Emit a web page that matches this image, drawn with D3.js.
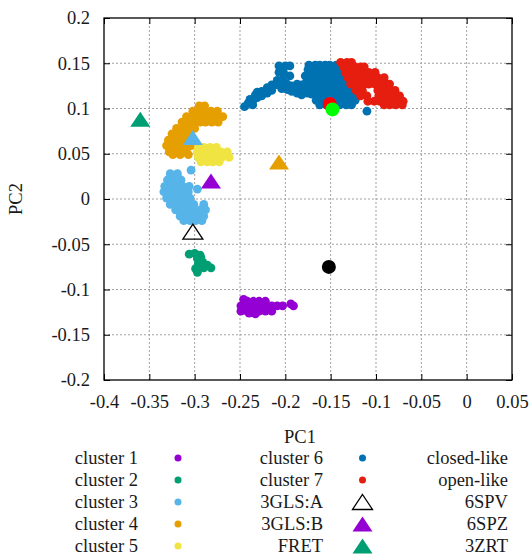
<!DOCTYPE html>
<html>
<head>
<meta charset="utf-8">
<script src="https://cdn.jsdelivr.net/npm/d3@7"></script>
<style>
body { margin: 0; background: #fff; }
svg text { font-family: 'Liberation Serif', 'Times New Roman', serif; }
</style>
</head>
<body>
<svg id="chart" width="529" height="555"></svg>
<script>
// tick values and labels
var xTicks = [-0.4, -0.35, -0.3, -0.25, -0.2, -0.15, -0.1, -0.05, 0, 0.05];
var xTickLabels = ["-0.4", "-0.35", "-0.3", "-0.25", "-0.2", "-0.15", "-0.1", "-0.05", "0", "0.05"];
var yTicks = [-0.2, -0.15, -0.1, -0.05, 0, 0.05, 0.1, 0.15, 0.2];
var yTickLabels = ["-0.2", "-0.15", "-0.1", "-0.05", "0", "0.05", "0.1", "0.15", "0.2"];

// cluster points [PC1, PC2]
var cluster1 = [
  [-0.246, -0.111], [-0.242, -0.113], [-0.235, -0.113], [-0.229, -0.113], [-0.222, -0.113],
  [-0.249, -0.118], [-0.242, -0.118], [-0.235, -0.118], [-0.229, -0.118], [-0.222, -0.118],
  [-0.215, -0.118], [-0.209, -0.118], [-0.203, -0.118],
  [-0.249, -0.124], [-0.242, -0.124], [-0.235, -0.124], [-0.229, -0.124], [-0.222, -0.124],
  [-0.215, -0.124], [-0.240, -0.126], [-0.233, -0.127],
  [-0.194, -0.116], [-0.191, -0.118]
];
var cluster2 = [
  [-0.306, -0.061], [-0.300, -0.060], [-0.294, -0.062], [-0.293, -0.065], [-0.297, -0.066],
  [-0.296, -0.072], [-0.299, -0.077], [-0.297, -0.081], [-0.291, -0.070], [-0.286, -0.073],
  [-0.282, -0.076], [-0.290, -0.076]
];
var cluster3 = [
  [-0.327, 0.028], [-0.319, 0.028],
  [-0.330, 0.021], [-0.323, 0.021], [-0.315, 0.021],
  [-0.333, 0.014], [-0.326, 0.014], [-0.319, 0.014], [-0.313, 0.014], [-0.306, 0.014],
  [-0.334, 0.008], [-0.327, 0.008], [-0.321, 0.008], [-0.314, 0.008], [-0.307, 0.008],
  [-0.331, 0.001], [-0.325, 0.001], [-0.318, 0.001], [-0.312, 0.001], [-0.305, 0.001],
  [-0.327, -0.006], [-0.321, -0.006], [-0.314, -0.006], [-0.307, -0.006], [-0.301, -0.006], [-0.290, -0.006],
  [-0.321, -0.012], [-0.314, -0.012], [-0.307, -0.012], [-0.301, -0.012], [-0.294, -0.012], [-0.288, -0.012],
  [-0.316, -0.019], [-0.310, -0.019], [-0.303, -0.019], [-0.296, -0.019], [-0.290, -0.019],
  [-0.312, -0.024], [-0.305, -0.024], [-0.299, -0.024], [-0.292, -0.024],
  [-0.304, 0.032], [-0.297, 0.011]
];
var cluster4 = [
  [-0.295, 0.103], [-0.289, 0.103],
  [-0.302, 0.097], [-0.295, 0.097], [-0.289, 0.097], [-0.282, 0.097], [-0.275, 0.097],
  [-0.309, 0.091], [-0.302, 0.091], [-0.295, 0.091], [-0.289, 0.091], [-0.282, 0.091], [-0.275, 0.091], [-0.269, 0.091],
  [-0.314, 0.085], [-0.307, 0.085], [-0.301, 0.085], [-0.294, 0.085], [-0.288, 0.085], [-0.281, 0.085], [-0.274, 0.085],
  [-0.320, 0.078], [-0.313, 0.078], [-0.306, 0.078], [-0.300, 0.078],
  [-0.325, 0.072], [-0.318, 0.072], [-0.312, 0.072], [-0.305, 0.072],
  [-0.329, 0.065], [-0.323, 0.065], [-0.316, 0.065], [-0.310, 0.065],
  [-0.331, 0.059], [-0.324, 0.059], [-0.317, 0.059], [-0.310, 0.059], [-0.304, 0.059],
  [-0.328, 0.052], [-0.322, 0.052], [-0.315, 0.052], [-0.309, 0.052],
  [-0.324, 0.049], [-0.316, 0.049], [-0.307, 0.049]
];
var cluster5 = [
  [-0.296, 0.057], [-0.290, 0.057], [-0.283, 0.057], [-0.276, 0.057],
  [-0.297, 0.052], [-0.291, 0.052], [-0.284, 0.052], [-0.278, 0.052], [-0.271, 0.052], [-0.264, 0.052],
  [-0.296, 0.046], [-0.290, 0.046], [-0.283, 0.046], [-0.276, 0.046], [-0.270, 0.046], [-0.262, 0.046],
  [-0.293, 0.041], [-0.286, 0.041], [-0.280, 0.041], [-0.273, 0.041]
];
var cluster6 = [
  [-0.245, 0.102], [-0.241, 0.106], [-0.236, 0.108], [-0.231, 0.112], [-0.226, 0.114], [-0.226, 0.119],
  [-0.239, 0.110], [-0.233, 0.115], [-0.231, 0.118], [-0.236, 0.104],
  [-0.220, 0.117], [-0.220, 0.123], [-0.215, 0.120], [-0.215, 0.126], [-0.209, 0.126], [-0.209, 0.131],
  [-0.204, 0.127], [-0.198, 0.127], [-0.193, 0.125], [-0.187, 0.123], [-0.182, 0.120], [-0.176, 0.117],
  [-0.204, 0.122], [-0.198, 0.121], [-0.193, 0.119], [-0.187, 0.117], [-0.182, 0.115],
  [-0.207, 0.147], [-0.200, 0.147], [-0.195, 0.147], [-0.207, 0.140], [-0.202, 0.140], [-0.195, 0.136],
  [-0.202, 0.133], [-0.187, 0.127], [-0.182, 0.126],
  [-0.174, 0.148], [-0.167, 0.148], [-0.162, 0.148], [-0.156, 0.148], [-0.151, 0.148], [-0.144, 0.148],
  [-0.175, 0.143], [-0.168, 0.143], [-0.162, 0.143], [-0.155, 0.143], [-0.149, 0.143], [-0.142, 0.143],
  [-0.178, 0.136], [-0.172, 0.136], [-0.165, 0.136], [-0.159, 0.136], [-0.152, 0.136], [-0.145, 0.136], [-0.139, 0.136],
  [-0.177, 0.129], [-0.171, 0.129], [-0.164, 0.129], [-0.157, 0.129], [-0.151, 0.129], [-0.144, 0.129], [-0.138, 0.129], [-0.133, 0.129],
  [-0.175, 0.123], [-0.168, 0.123], [-0.162, 0.123], [-0.155, 0.123], [-0.149, 0.123], [-0.142, 0.123], [-0.135, 0.123], [-0.130, 0.123],
  [-0.171, 0.116], [-0.164, 0.116], [-0.157, 0.116], [-0.151, 0.116], [-0.144, 0.116], [-0.138, 0.116], [-0.131, 0.116], [-0.125, 0.116],
  [-0.166, 0.109], [-0.160, 0.109], [-0.153, 0.109], [-0.146, 0.109], [-0.140, 0.109], [-0.133, 0.109], [-0.127, 0.109], [-0.123, 0.109],
  [-0.162, 0.104], [-0.155, 0.104], [-0.140, 0.104], [-0.133, 0.104], [-0.127, 0.104],
  [-0.110, 0.097]
];
var cluster7 = [
  [-0.139, 0.151], [-0.132, 0.151], [-0.127, 0.151],
  [-0.136, 0.146], [-0.130, 0.146], [-0.123, 0.146], [-0.117, 0.146], [-0.113, 0.146],
  [-0.134, 0.140], [-0.128, 0.140], [-0.121, 0.140], [-0.114, 0.140], [-0.108, 0.140], [-0.101, 0.140],
  [-0.131, 0.134], [-0.124, 0.134], [-0.118, 0.134], [-0.111, 0.134], [-0.104, 0.134], [-0.098, 0.134], [-0.091, 0.134],
  [-0.128, 0.127], [-0.121, 0.127], [-0.114, 0.127], [-0.108, 0.127], [-0.101, 0.127], [-0.095, 0.127], [-0.088, 0.127], [-0.085, 0.127],
  [-0.122, 0.120], [-0.115, 0.120], [-0.098, 0.120], [-0.091, 0.120], [-0.085, 0.120], [-0.079, 0.120],
  [-0.117, 0.114], [-0.110, 0.114], [-0.097, 0.114], [-0.090, 0.114], [-0.083, 0.114], [-0.077, 0.114], [-0.074, 0.114],
  [-0.109, 0.108], [-0.102, 0.108], [-0.096, 0.108], [-0.089, 0.108], [-0.082, 0.108], [-0.076, 0.108], [-0.070, 0.108],
  [-0.091, 0.104], [-0.085, 0.104], [-0.078, 0.104], [-0.071, 0.104]
];
var clusterNames = ["cluster 1", "cluster 2", "cluster 3", "cluster 4", "cluster 5", "cluster 6", "cluster 7"];

// single structures
var markerNames = ["3GLS:A", "3GLS:B", "FRET", "closed-like", "open-like", "6SPV", "6SPZ", "3ZRT"];
var markerPC1 = [-0.302, -0.282, -0.360, -0.302, -0.207, -0.151, -0.148, -0.152];
var markerPC2 = [-0.036, 0.020, 0.088, 0.068, 0.041, 0.105, 0.099, -0.075];

var clusterColors = ["#9400d3", "#009e73", "#56b4e9", "#e69f00", "#f0e442", "#0072b2", "#e51e10"];
var markerStyles = [
  {shape: "tri", fill: "none", stroke: "#000"},
  {shape: "tri", fill: "#9400d3"},
  {shape: "tri", fill: "#009e73"},
  {shape: "tri", fill: "#56b4e9"},
  {shape: "tri", fill: "#e69f00"},
  {shape: "circ", fill: "#ff0000"},
  {shape: "circ", fill: "#00ff00"},
  {shape: "circ", fill: "#000000"}
];

var font = "'Liberation Serif', 'Times New Roman', serif";
var fontSize = 18.5;
var textColor = "#1a1a1a";

var svg = d3.select("#chart");
var x = d3.scaleLinear().domain([-0.4, 0.05]).range([104, 512]);
var y = d3.scaleLinear().domain([-0.2, 0.2]).range([380, 18]);

// grid
var grid = svg.append("g");
grid.selectAll("line.gx")
  .data(xTicks.slice(1, -1))
  .enter().append("line")
  .attr("x1", function(d) { return x(d); })
  .attr("x2", function(d) { return x(d); })
  .attr("y1", y(0.2))
  .attr("y2", y(-0.2))
  .attr("stroke", "#a0a0a0")
  .attr("stroke-width", 1)
  .attr("stroke-dasharray", "2,2");
grid.selectAll("line.gy")
  .data(yTicks.slice(1, -1))
  .enter().append("line")
  .attr("y1", function(d) { return y(d); })
  .attr("y2", function(d) { return y(d); })
  .attr("x1", x(-0.4))
  .attr("x2", x(0.05))
  .attr("stroke", "#a0a0a0")
  .attr("stroke-width", 1)
  .attr("stroke-dasharray", "2,2");

// axes, ticks inward on all sides
function styleAxis(g) {
  g.select(".domain").remove();
  g.attr("font-family", font).attr("font-size", fontSize);
  g.selectAll(".tick line").attr("stroke", "#000");
  g.selectAll(".tick text").attr("fill", textColor);
}
svg.append("g")
  .attr("transform", "translate(0," + y(-0.2) + ")")
  .call(d3.axisBottom(x).tickValues(xTicks)
    .tickFormat(function(d, i) { return xTickLabels[i]; })
    .tickSize(-6).tickPadding(15))
  .call(styleAxis);
svg.append("g")
  .attr("transform", "translate(0," + y(0.2) + ")")
  .call(d3.axisTop(x).tickValues(xTicks).tickFormat("").tickSize(-6))
  .call(styleAxis);
svg.append("g")
  .attr("transform", "translate(" + x(-0.4) + ",0)")
  .call(d3.axisLeft(y).tickValues(yTicks)
    .tickFormat(function(d, i) { return yTickLabels[i]; })
    .tickSize(-6).tickPadding(14))
  .call(styleAxis);
svg.append("g")
  .attr("transform", "translate(" + x(0.05) + ",0)")
  .call(d3.axisRight(y).tickValues(yTicks).tickFormat("").tickSize(-6))
  .call(styleAxis);

// clusters
var clusters = [cluster1, cluster2, cluster3, cluster4, cluster5, cluster6, cluster7];
var pts = svg.append("g");
for (var c = 0; c < clusters.length; c++) {
  pts.append("g").selectAll("circle")
    .data(clusters[c])
    .enter().append("circle")
    .attr("cx", function(d) { return x(d[0]); })
    .attr("cy", function(d) { return y(d[1]); })
    .attr("r", 4.4)
    .attr("fill", clusterColors[c]);
}

function triPath(w, h) {
  return "M0," + (-h / 2) + "L" + (w / 2) + "," + (h / 2) + "L" + (-w / 2) + "," + (h / 2) + "Z";
}
function drawMarker(g, cx, cy, st) {
  if (st.shape == "tri") {
    g.append("path")
      .attr("d", triPath(20, 15))
      .attr("transform", "translate(" + cx + "," + cy + ")")
      .attr("fill", st.fill)
      .attr("stroke", st.stroke || "none")
      .attr("stroke-width", 1.3);
  } else {
    g.append("circle")
      .attr("cx", cx)
      .attr("cy", cy)
      .attr("r", 7)
      .attr("fill", st.fill);
  }
}

var marks = svg.append("g");
for (var m = 0; m < markerNames.length; m++) {
  drawMarker(marks, x(markerPC1[m]), y(markerPC2[m]), markerStyles[m]);
}

// border
svg.append("rect")
  .attr("x", x(-0.4))
  .attr("y", y(0.2))
  .attr("width", x(0.05) - x(-0.4))
  .attr("height", y(-0.2) - y(0.2))
  .attr("fill", "none")
  .attr("stroke", "#000")
  .attr("stroke-width", 1.3);

// axis titles
svg.append("text")
  .attr("x", 300)
  .attr("y", 443)
  .attr("text-anchor", "middle")
  .attr("font-family", font)
  .attr("font-size", fontSize)
  .attr("fill", textColor)
  .text("PC1");
svg.append("text")
  .attr("transform", "translate(22," + y(0) + ") rotate(-90)")
  .attr("text-anchor", "middle")
  .attr("font-family", font)
  .attr("font-size", fontSize)
  .attr("fill", textColor)
  .text("PC2");

// key, 3 columns of 5 below the plot
var keyNames = clusterNames.concat(markerNames);
var key = svg.append("g");
for (var k = 0; k < keyNames.length; k++) {
  var col = Math.floor(k / 5);
  var row = k % 5;
  var ry = 458 + row * 22;
  var tx = 138 + col * 185;
  var sx = 178 + col * 184.5;
  key.append("text")
    .attr("x", tx)
    .attr("y", ry + 6)
    .attr("text-anchor", "end")
    .attr("font-family", font)
    .attr("font-size", fontSize)
    .attr("fill", textColor)
    .text(keyNames[k]);
  if (k < clusterNames.length) {
    key.append("circle")
      .attr("cx", sx)
      .attr("cy", ry)
      .attr("r", 3.5)
      .attr("fill", clusterColors[k]);
  } else {
    drawMarker(key, sx, ry, markerStyles[k - clusterNames.length]);
  }
}
</script>
</body>
</html>
